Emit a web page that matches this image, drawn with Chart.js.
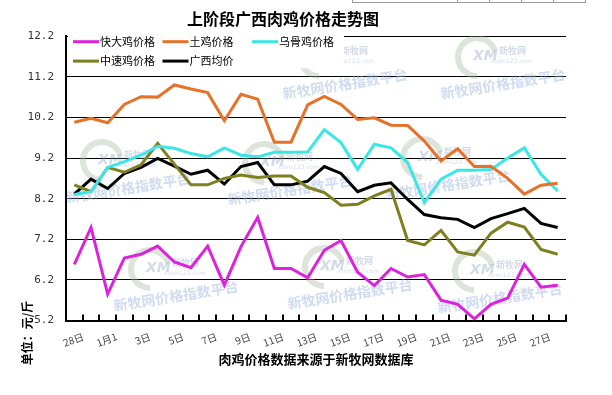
<!DOCTYPE html>
<html>
<head>
<meta charset="utf-8">
<script src="https://cdn.jsdelivr.net/npm/chart.js@4/dist/chart.umd.min.js"></script>
<style>
  body { margin: 0; background: #fff; }
  #wrap { width: 612px; height: 395px; }
</style>
</head>
<body>
<div id="wrap"><canvas id="chart" width="612" height="395"></canvas></div>
<script>
// dates along the x axis, only every other one gets printed
const days = ['28日', '30日', '1月1', '2日', '3日', '4日', '5日', '6日', '7日', '8日',
  '9日', '10日', '11日', '12日', '13日', '14日', '15日', '16日', '17日', '18日',
  '19日', '20日', '21日', '22日', '23日', '24日', '25日', '26日', '27日', '28日'];

// prices, yuan per jin
const kuaidaPrice = [6.58, 7.49, 5.85, 6.74, 6.83, 7.03, 6.64, 6.50, 7.03, 6.07,
  7.02, 7.74, 6.48, 6.48, 6.25, 6.93, 7.17, 6.39, 6.06, 6.48,
  6.27, 6.33, 5.70, 5.60, 5.24, 5.60, 5.75, 6.58, 6.02, 6.07];
const tujiPrice = [10.08, 10.18, 10.07, 10.52, 10.71, 10.70, 11.00, 10.90, 10.81, 10.12,
  10.77, 10.65, 9.59, 9.59, 10.51, 10.72, 10.52, 10.15, 10.19, 10.01,
  10.00, 9.62, 9.13, 9.43, 8.99, 9.00, 8.70, 8.31, 8.53, 8.58];
const wugujiPrice = [8.30, 8.37, 8.97, 9.11, 9.27, 9.49, 9.44, 9.31, 9.23, 9.45,
  9.27, 9.23, 9.34, 9.34, 9.35, 9.90, 9.58, 8.92, 9.54, 9.45,
  9.09, 8.10, 8.68, 8.90, 8.90, 8.92, 9.20, 9.45, 8.80, 8.39];
const zhongsuPrice = [8.54, 8.37, 8.97, 8.85, 9.03, 9.56, 9.05, 8.54, 8.54, 8.70,
  8.78, 8.72, 8.76, 8.76, 8.48, 8.35, 8.04, 8.06, 8.27, 8.43,
  7.17, 7.06, 7.42, 6.89, 6.81, 7.35, 7.62, 7.50, 6.95, 6.83];
const avgPrice = [8.31, 8.68, 8.45, 8.82, 8.97, 9.19, 9.00, 8.80, 8.90, 8.56,
  8.99, 9.09, 8.54, 8.54, 8.63, 8.99, 8.82, 8.37, 8.53, 8.59,
  8.18, 7.81, 7.73, 7.69, 7.49, 7.71, 7.83, 7.96, 7.59, 7.49];

const yTicks = [5.2, 6.2, 7.2, 8.2, 9.2, 10.2, 11.2, 12.2];

const chartTitle = '上阶段广西肉鸡价格走势图';
const xTitle = '肉鸡价格数据来源于新牧网数据库';
const unitText = '单位：元/斤';
const markText = '新牧网价格指数平台';

const cjk = '"Noto Sans CJK SC", sans-serif';

// watermark spots (text centre); the round logo sits up and left of each
const markSpots = [[345, 84], [503, 84], [128, 188], [290, 190], [448, 185],
  [176, 296], [350, 294], [500, 298]];

const decor = {
  id: 'decor',
  beforeDatasetsDraw(chart) {
    const {ctx, chartArea: a} = chart;
    ctx.save();
    ctx.beginPath();
    ctx.rect(a.left + 1, a.top, a.right - a.left, a.bottom - a.top - 1);
    ctx.clip();
    markSpots.forEach(([mx, my]) => {
      const x = mx - 26, y = my - 27;
      ctx.strokeStyle = 'rgba(165,185,160,0.38)';
      ctx.lineWidth = 6;
      ctx.beginPath();
      ctx.arc(x, y, 19, Math.PI * 0.5, Math.PI * 1.9);
      ctx.stroke();
      ctx.fillStyle = 'rgba(130,150,185,0.35)';
      ctx.font = 'bold italic 14px "DejaVu Sans", sans-serif';
      ctx.textAlign = 'left';
      ctx.textBaseline = 'alphabetic';
      ctx.fillText('XM', x - 4, y + 3);
      ctx.font = 'bold 9px ' + cjk;
      ctx.fillText('新牧网', x + 22, y - 3);
      ctx.font = 'italic 6px "DejaVu Sans", sans-serif';
      ctx.fillText('xinm123.com', x + 14, y + 6);
    });
    ctx.fillStyle = 'rgba(150,175,225,0.45)';
    ctx.font = 'bold 14px ' + cjk;
    ctx.textAlign = 'center';
    ctx.textBaseline = 'middle';
    markSpots.forEach(([x, y]) => {
      ctx.save();
      ctx.translate(x, y);
      ctx.rotate(-9 * Math.PI / 180);
      ctx.fillText(markText, 0, 0);
      ctx.restore();
    });
    ctx.restore();
  },
  afterDraw(chart) {
    const {ctx, chartArea: a} = chart;
    ctx.save();
    // short ticks pointing up at every category border
    const n = chart.data.labels.length;
    const step = (a.right - a.left) / n;
    ctx.strokeStyle = '#000';
    ctx.lineWidth = 2;
    for (let i = 1; i <= n; i++) {
      const x = Math.round(a.left + i * step);
      ctx.beginPath();
      ctx.moveTo(x, a.bottom);
      ctx.lineTo(x, a.bottom - 6);
      ctx.stroke();
    }

    // legend sits inside the plot on a white box
    ctx.fillStyle = '#fff';
    ctx.fillRect(a.left + 2, a.top - 4, 276, 36);
    ctx.font = '11px ' + cjk;
    ctx.textBaseline = 'middle';
    ctx.textAlign = 'left';
    chart.data.datasets.forEach((ds, i) => {
      const col = i < 3 ? i : i - 3;
      const row = i < 3 ? 0 : 1;
      const x0 = a.left + 7 + col * 89.5;
      const y0 = a.top + 5.5 + row * 19.4;
      ctx.strokeStyle = ds.borderColor;
      ctx.lineWidth = 3;
      ctx.beginPath();
      ctx.moveTo(x0, y0);
      ctx.lineTo(x0 + 26, y0);
      ctx.stroke();
      ctx.fillStyle = '#000';
      ctx.fillText(ds.label, x0 + 27, y0);
    });

    // unit note, written upwards at the lower left
    ctx.save();
    ctx.translate(27, 333);
    ctx.rotate(-Math.PI / 2);
    ctx.font = 'bold 12px ' + cjk;
    ctx.textAlign = 'center';
    ctx.fillStyle = '#000';
    ctx.fillText(unitText, 0, 0);
    ctx.restore();

    // bit of a web table showing at the top right
    ctx.strokeStyle = '#9a9a9a';
    ctx.lineWidth = 1;
    ctx.beginPath();
    ctx.moveTo(352, 2.5);
    ctx.lineTo(586, 2.5);
    [352.5, 457.5, 489.5, 521.5, 553.5, 585.5].forEach(x => {
      ctx.moveTo(x, 0);
      ctx.lineTo(x, 3);
    });
    ctx.stroke();
    ctx.restore();
  }
};

function makeSet(label, data, color) {
  return {label: label, data: data, borderColor: color, backgroundColor: color,
    borderWidth: 3, pointRadius: 0, tension: 0, fill: false};
}

const ctx = document.getElementById('chart');
new Chart(ctx, {
  type: 'line',
  data: {
    labels: days,
    datasets: [
      makeSet('快大鸡价格', kuaidaPrice, '#DD22DD'),
      makeSet('土鸡价格', tujiPrice, '#E6722A'),
      makeSet('乌骨鸡价格', wugujiPrice, '#3DE6E6'),
      makeSet('中速鸡价格', zhongsuPrice, '#7F7F1F'),
      makeSet('广西均价', avgPrice, '#000000')
    ]
  },
  options: {
    responsive: false,
    animation: false,
    layout: {padding: {left: 0, right: 46, top: 0, bottom: 0}},
    plugins: {
      legend: {display: false},
      tooltip: {enabled: false},
      title: {
        display: true,
        text: chartTitle,
        color: '#000',
        font: {family: cjk, size: 16, weight: 'bold'},
        padding: {top: 9, bottom: 8}
      }
    },
    scales: {
      x: {
        type: 'category',
        offset: true,
        grid: {display: false},
        border: {display: true, color: '#000', width: 2},
        ticks: {
          autoSkip: false,
          minRotation: 20,
          maxRotation: 20,
          padding: 2,
          labelOffset: 9,
          color: '#444',
          font: {family: cjk, size: 10},
          callback: function (val, i) {
            return i % 2 === 0 ? this.getLabelForValue(val) : '';
          }
        },
        title: {
          display: true,
          text: xTitle,
          color: '#000',
          font: {family: cjk, size: 13, weight: 'bold'},
          padding: {top: 0, bottom: 28}
        },
        afterFit: function (axis) { axis.height = 74.5; }
      },
      y: {
        min: 5.2,
        max: 12.2,
        afterBuildTicks: function (axis) {
          axis.ticks = yTicks.map(v => ({value: v}));
        },
        grid: {color: '#000', lineWidth: 1, drawTicks: false},
        border: {display: true, color: '#000', width: 2},
        ticks: {
          padding: 12,
          color: '#333',
          font: {family: '"DejaVu Sans Mono", monospace', size: 11},
          callback: v => v.toFixed(1)
        },
        afterFit: function (axis) { axis.width = 66; }
      }
    }
  },
  plugins: [decor]
});
</script>
</body>
</html>
